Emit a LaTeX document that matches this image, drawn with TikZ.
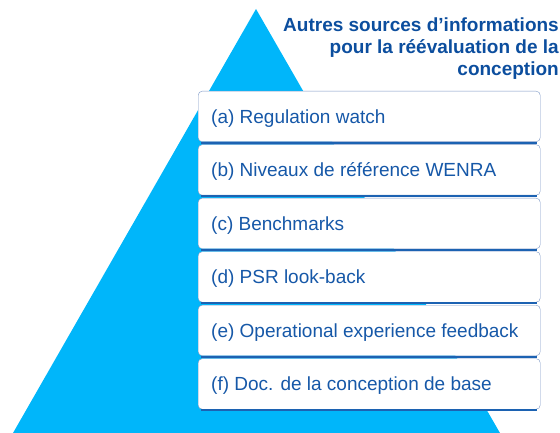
\documentclass[tikz,border=0pt]{standalone}
\usepackage{fontspec}
\setmainfont{Liberation Sans}
\definecolor{pyramid}{RGB}{0,182,250}
\definecolor{boxtext}{RGB}{22,88,168}
\definecolor{titleblue}{RGB}{12,78,158}
\definecolor{boxline}{RGB}{28,98,178}
\definecolor{boxedge}{RGB}{125,152,198}
\begin{document}
\begin{tikzpicture}[x=1pt,y=-1pt,
	level/.style={draw=boxedge,fill=white,rounded corners=4pt,minimum width=342pt,minimum height=50.5pt,anchor=north west,inner sep=0pt},
	leveltext/.style={font=\fontsize{19}{22}\selectfont,text=boxtext,anchor=west,inner sep=0pt}]
	\useasboundingbox (0,0) rectangle (560,433);
	\clip (0,0) rectangle (560,433);
	\fill[pyramid] (256,9) -- (9,440) -- (504,440) -- cycle;
	\node[font=\bfseries\fontsize{19}{22}\selectfont,text=titleblue,align=right,anchor=north east,inner sep=0pt] (title) at (559,18) {Autres sources d’informations\\pour la réévaluation de la\\conception};
	\foreach \n/\txt [count=\i from 0] in {a/Regulation watch,b/Niveaux de référence WENRA,c/Benchmarks,d/PSR look-back,e/Operational experience feedback,f/Doc. de la conception de base}{
		\node[level] (box\n) at (198,{91+53.5*\i}) {};
		\draw[boxline,line width=2pt] ([xshift=3pt,yshift=-1pt]box\n.south west) -- ([xshift=-3pt,yshift=-1pt]box\n.south east);
		\node[leveltext] (lbl\n) at ([xshift=13pt,yshift=-2pt]box\n.west) {(\n) \txt};
	}
\end{tikzpicture}
\end{document}
